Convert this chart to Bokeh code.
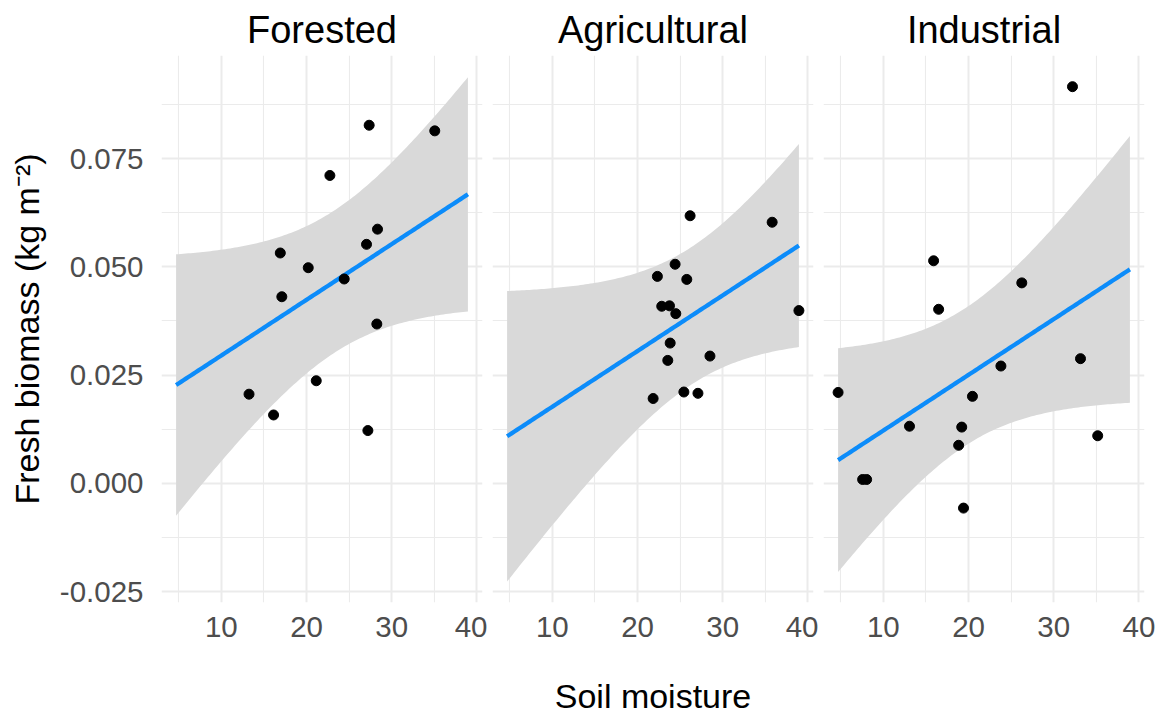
import numpy as np
from bokeh.plotting import figure
from bokeh.layouts import row
from bokeh.models import Range1d, FixedTicker, NumeralTickFormatter
from bokeh.embed import file_html
from bokeh.resources import INLINE

# ---- data ----
panel_names = ["Forested", "Agricultural", "Industrial"]

forest_x = [27.35, 35.05, 22.74, 28.33, 27.04, 16.92, 20.2, 24.42, 17.1, 28.25, 21.14, 13.25, 16.13, 27.2]
forest_y = [0.0827, 0.0814, 0.0711, 0.0587, 0.0552, 0.0532, 0.0498, 0.0472, 0.0431, 0.0368, 0.0237, 0.0206, 0.0158, 0.0122]

agri_x = [26.17, 35.8, 24.41, 22.33, 25.78, 22.84, 23.75, 24.49, 38.94, 23.83, 23.55, 28.5, 25.44, 27.09, 21.83]
agri_y = [0.0618, 0.0603, 0.0506, 0.0478, 0.0471, 0.0409, 0.0410, 0.0392, 0.0399, 0.0324, 0.0284, 0.0294, 0.0211, 0.0208, 0.0196]

indus_x = [32.2, 15.9, 26.25, 16.49, 33.14, 23.8, 4.69, 20.46, 13.07, 19.2, 35.16, 18.84, 7.57, 8.04, 19.41]
indus_y = [0.0916, 0.0514, 0.0463, 0.0402, 0.0288, 0.0271, 0.0210, 0.0201, 0.0132, 0.0130, 0.0110, 0.0088, 0.0009, 0.0009, -0.0057]

x_ticks = [10, 20, 30, 40]
x_minor = [5, 15, 25, 35]
y_ticks = [-0.025, 0.0, 0.025, 0.05, 0.075]
y_minor = [-0.0125, 0.0125, 0.0375, 0.0625, 0.0875]

# half-width multiplier of the model's 95% interval
ci_scale = 0.0615

# ---- common-slope linear model (y ~ x + land use) ----
groups = [(np.array(forest_x), np.array(forest_y)),
          (np.array(agri_x), np.array(agri_y)),
          (np.array(indus_x), np.array(indus_y))]
sxy = sum(((gx - gx.mean()) * (gy - gy.mean())).sum() for gx, gy in groups)
sxx = sum(((gx - gx.mean()) ** 2).sum() for gx, gy in groups)
slope = sxy / sxx

all_x = np.concatenate([g[0] for g in groups])
x_lo, x_hi = all_x.min(), all_x.max()
xs = np.linspace(x_lo, x_hi, 120)
pad = 0.05 * (x_hi - x_lo)
x_rng = (x_lo - pad, x_hi + pad)
y_rng = (-0.0275, 0.0988)

FONT = "Liberation Sans"
GRID = "#EBEBEB"

figs = []
for i, (name, (gx, gy)) in enumerate(zip(panel_names, groups)):
    left = 161 if i == 0 else 5
    right = 19 if i == 2 else 5
    p = figure(frame_width=321, frame_height=547,
               min_border_left=left, min_border_right=right,
               min_border_top=55, min_border_bottom=117,
               x_range=Range1d(*x_rng), y_range=Range1d(*y_rng),
               output_backend="svg", toolbar_location=None, tools="",
               title=name)
    p.outline_line_color = None
    p.background_fill_color = "white"
    p.border_fill_color = "white"

    p.title.align = "center"
    p.title.text_font = FONT
    p.title.text_font_size = "38px"
    p.title.text_font_style = "normal"
    p.title.text_color = "#000000"
    p.title.standoff = 9

    xt = FixedTicker(ticks=x_ticks, minor_ticks=x_minor)
    yt = FixedTicker(ticks=y_ticks, minor_ticks=y_minor)
    p.xaxis.ticker = xt
    p.yaxis.ticker = yt
    p.xgrid.ticker = xt
    p.ygrid.ticker = yt
    for g in (p.xgrid, p.ygrid):
        g.grid_line_color = GRID
        g.grid_line_width = 2
        g.minor_grid_line_color = GRID
        g.minor_grid_line_width = 1.1

    for ax in (p.xaxis, p.yaxis):
        ax.axis_line_color = None
        ax.major_tick_line_color = None
        ax.minor_tick_line_color = None
        ax.major_label_text_font = FONT
        ax.major_label_text_font_size = "29.5px"
        ax.major_label_text_color = "#4D4D4D"
        ax.axis_label_text_font = FONT
        ax.axis_label_text_font_size = "34px"
        ax.axis_label_text_font_style = "normal"
        ax.axis_label_text_color = "#000000"
    p.xaxis.major_label_standoff = 8
    p.yaxis.major_label_standoff = 12
    p.yaxis.formatter = NumeralTickFormatter(format="0.000")

    if i == 0:
        p.yaxis.axis_label = "Fresh biomass (kg m\u207b\u00b2)"
        p.yaxis.axis_label_standoff = 11
    else:
        p.yaxis.visible = False
    if i == 1:
        p.xaxis.axis_label = "Soil moisture"
        p.xaxis.axis_label_standoff = 37

    fit = gy.mean() + slope * (xs - gx.mean())
    half = ci_scale * np.sqrt(1.0 / len(gx) + (xs - gx.mean()) ** 2 / sxx)
    p.varea(x=xs, y1=fit - half, y2=fit + half, fill_color="#D9D9D9")
    p.line(xs, fit, line_color="#0C8CFA", line_width=4.3)
    p.scatter(gx, gy, size=10, color="#000000")
    figs.append(p)

layout = row(*figs, spacing=0)
open("out.html", "w").write(file_html(layout, INLINE))
